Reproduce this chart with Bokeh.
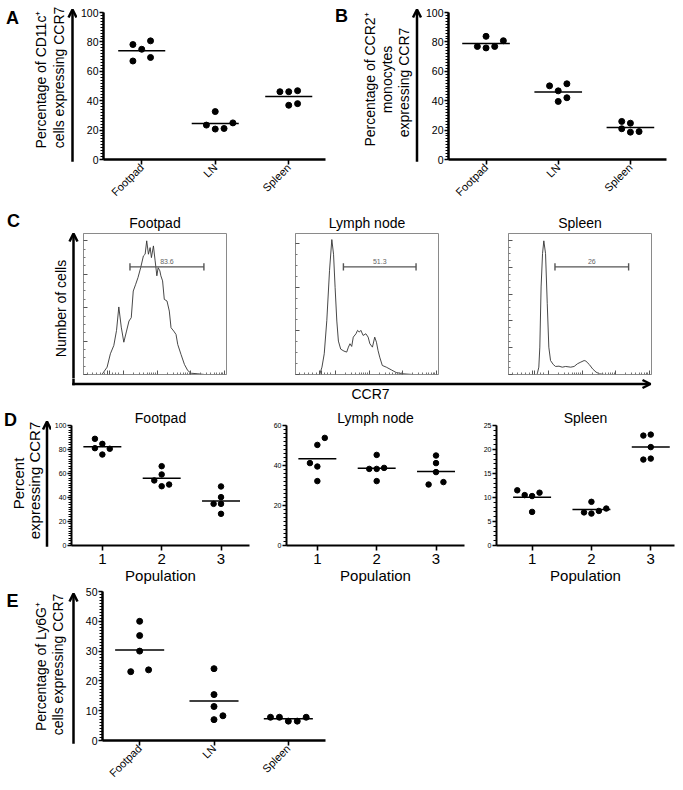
import numpy as np
from math import pi, log10
from bokeh.plotting import figure
from bokeh.layouts import row, column
from bokeh.models import Range1d, SingleIntervalTicker, FixedTicker, Arrow, OpenHead
from bokeh.core.properties import value
from bokeh.embed import file_html
from bokeh.resources import INLINE

FONT = "Liberation Sans"

# ---------------- data ----------------
a_categories = ["Footpad", "LN", "Spleen"]
a_footpad = [78.2, 75.0, 80.7, 67.0, 69.4]
a_ln = [32.6, 23.4, 20.7, 21.1, 24.9]
a_spleen = [46.1, 46.1, 46.8, 36.9, 38.0]
a_slots = [[-1, 0, 1, -1, 1], [0, -1, 0, 1, 2], [-1, 0, 1, 0, 1]]

b_categories = ["Footpad", "LN", "Spleen"]
b_footpad = [83.8, 76.9, 75.9, 76.9, 80.8]
b_ln = [50.1, 51.5, 46.7, 39.5, 42.0]
b_spleen = [25.9, 20.9, 24.7, 18.6, 19.0]
b_slots = [[0, -1, 0, 1, 2], [-1, 1, 0, 0, 1], [-1, -1, 0, 0, 1]]

c_titles = ["Footpad", "Lymph node", "Spleen"]
c_fp_x = [0.129, 0.165, 0.188, 0.212, 0.231, 0.247, 0.264, 0.282, 0.301, 0.318, 0.334,
          0.348, 0.365, 0.381, 0.400, 0.419, 0.431, 0.442, 0.454, 0.466, 0.475, 0.489,
          0.501, 0.513, 0.522, 0.534, 0.541, 0.553, 0.565, 0.584, 0.600, 0.612, 0.631,
          0.647, 0.659, 0.682, 0.706, 0.729, 0.753, 0.800, 0.847]
c_fp_y = [0, 5.2, 14.7, 20.6, 31.3, 47.9, 33.6, 22.9, 30.8, 37.9, 40.3, 59.2, 64.0, 68.7,
          75.8, 84.1, 85.3, 94.8, 85.3, 90.0, 82.9, 91.2, 80.6, 70.0, 75.8, 73.5, 70.0,
          66.4, 53.3, 52.1, 45.0, 33.2, 30.8, 28.4, 21.3, 14.2, 7.1, 2.8, 0.9, 0.5, 0]
c_ln_x = [0.169, 0.185, 0.201, 0.219, 0.238, 0.254, 0.266, 0.277, 0.289, 0.300, 0.316,
          0.339, 0.358, 0.370, 0.381, 0.393, 0.404, 0.423, 0.434, 0.446, 0.457, 0.473,
          0.492, 0.508, 0.520, 0.538, 0.554, 0.566, 0.577, 0.589, 0.607, 0.635, 0.670,
          0.704, 0.751, 0.820]
c_ln_y = [0, 5.2, 14.7, 38.4, 73.9, 95.7, 85.3, 61.6, 37.9, 23.7, 18.0, 16.6, 15.9, 19.4,
          21.8, 19.9, 26.5, 28.9, 31.3, 30.1, 31.3, 27.7, 28.9, 26.5, 21.8, 19.4, 26.5,
          22.9, 17.1, 12.3, 6.4, 5.2, 3.3, 1.4, 0.5, 0]
c_sp_x = [0.200, 0.212, 0.219, 0.228, 0.238, 0.247, 0.259, 0.271, 0.282, 0.294, 0.313,
          0.329, 0.353, 0.376, 0.400, 0.435, 0.459, 0.482, 0.506, 0.529, 0.541, 0.565,
          0.588, 0.612, 0.635, 0.671]
c_sp_y = [0, 5.2, 19.4, 62.1, 85.8, 94.8, 85.8, 50.2, 19.4, 9.9, 7.1, 5.7, 5.9, 5.2, 5.7,
          5.2, 5.7, 7.6, 8.8, 9.9, 9.5, 7.1, 4.0, 1.7, 0.5, 0]
c_gate_lo = [0.325, 0.335, 0.325]
c_gate_hi = [0.842, 0.843, 0.840]
c_gate_level = [76.3, 76.3, 76.3]
c_gate_labels = ["83.6", "51.3", "26"]

d_titles = ["Footpad", "Lymph node", "Spleen"]
d_populations = ["1", "2", "3"]
d_footpad = [[88.9, 84.7, 81.1, 80.6, 75.8], [66.1, 59.2, 54.2, 49.4, 50.8],
             [49.2, 40.3, 34.7, 34.7, 26.4]]
d_footpad_slots = [[-1, 0, -1, 1, 0], [0, 0, -1, 0, 1], [0, 0, -1, 0, 0]]
d_lymph = [[53.8, 50.3, 41.2, 39.5, 32.2], [45.3, 38.3, 38.3, 38.8, 32.2],
           [45.0, 41.2, 36.7, 30.5, 31.7]]
d_lymph_slots = [[1, 0, -1, 0, 0], [0, -1, 0, 1, 0], [0, 0, 0, -1, 1]]
d_spleen = [[11.5, 10.5, 10.3, 11.0, 7.0], [9.1, 6.9, 6.65, 7.2, 7.7],
            [22.9, 23.1, 20.5, 17.9, 18.1]]
d_spleen_slots = [[-2, -1, 0, 1, 0], [0, -1, 0, 1, 2], [-1, 0, 0, -1, 0]]

e_categories = ["Footpad", "LN", "Spleen"]
e_footpad = [40.0, 35.2, 30.0, 23.1, 23.7]
e_ln = [24.1, 15.4, 11.4, 8.3, 7.0]
e_spleen = [7.8, 7.8, 6.5, 6.5, 7.8]
e_slots = [[0, 0, 0, -1, 1], [0, 0, 0, 1, 0], [-2, -1, 0, 1, 2]]


# ---------------- helpers ----------------
def base_fig(width, height, **kw):
    return figure(width=width, height=height, output_backend="svg",
                  toolbar_location=None, **kw)


def deco_fig(width, height):
    p = base_fig(width, height, x_range=Range1d(0, width), y_range=Range1d(0, height),
                 x_axis_location=None, y_axis_location=None, min_border=0)
    try:
        p.frame_align = False
    except Exception:
        pass
    p.grid.visible = False
    p.outline_line_color = None
    p.tags = [height]
    return p


def put_text(p, x, y, s, size, angle=0.0, bold=False, color="black",
             align="center", baseline="middle"):
    h = p.tags[0]
    p.text(x=[x], y=[h - y], text=[s], angle=angle, text_font=value(FONT),
           text_font_size=f"{size}px", text_font_style="bold" if bold else "normal",
           text_color=color, text_align=align, text_baseline=baseline)


def put_arrow(p, x0, y0, x1, y1, lw=2.5, head=8):
    h = p.tags[0]
    p.add_layout(Arrow(end=OpenHead(size=head, line_width=lw, line_color="black"),
                       x_start=x0, y_start=h - y0, x_end=x1, y_end=h - y1,
                       line_width=lw, line_color="black", line_cap="square"))


def style_title(p, standoff):
    p.title.align = "center"
    p.title.text_font = FONT
    p.title.text_font_size = "14px"
    p.title.text_font_style = "normal"
    p.title.text_color = "black"
    p.title.standoff = standoff


def dot_fig(width, height, borders, xr, yr, yint, nminor, positions, labels, groups, slots,
            step, half, dot_size, tick_fs, cat_fs, axis_w, rotate, xlabel=None, title=None):
    lb, rb, tb, bb = borders
    kw = dict(x_range=Range1d(*xr), y_range=Range1d(*yr), min_border_left=lb,
              min_border_right=rb, min_border_top=tb, min_border_bottom=bb)
    if title:
        kw["title"] = title
    p = base_fig(width, height, **kw)
    if title:
        style_title(p, 0)
    p.grid.visible = False
    p.outline_line_color = None

    ya = p.yaxis[0]
    ya.ticker = SingleIntervalTicker(interval=yint, num_minor_ticks=nminor)
    ya.major_tick_out = 4
    ya.major_tick_in = 0
    ya.minor_tick_out = 3
    ya.minor_tick_in = 0
    ya.axis_line_width = axis_w
    ya.major_tick_line_width = 1.3
    ya.minor_tick_line_width = 1
    ya.major_label_text_font = FONT
    ya.major_label_text_font_size = tick_fs
    ya.major_label_text_color = "black"
    ya.major_label_standoff = 1

    xa = p.xaxis[0]
    xa.ticker = FixedTicker(ticks=positions, minor_ticks=[])
    xa.major_label_overrides = {pos: lab for pos, lab in zip(positions, labels)}
    xa.major_tick_out = 5
    xa.major_tick_in = 0
    xa.axis_line_width = axis_w
    xa.major_tick_line_width = 1.6
    xa.major_label_text_font = FONT
    xa.major_label_text_font_size = cat_fs
    xa.major_label_text_color = "black"
    if rotate:
        xa.major_label_orientation = pi / 4
        xa.major_label_standoff = 1
    else:
        xa.major_label_standoff = 3
    if xlabel:
        xa.axis_label = xlabel
        xa.axis_label_text_font = FONT
        xa.axis_label_text_font_size = "15px"
        xa.axis_label_text_font_style = "normal"
        xa.axis_label_text_color = "black"
        xa.axis_label_standoff = 0

    for pos, vals, sl in zip(positions, groups, slots):
        xs = [pos + s * step for s in sl]
        p.scatter(xs, vals, size=dot_size, color="black")
        m = float(np.mean(vals))
        p.segment(x0=[pos - half], y0=[m], x1=[pos + half], y1=[m],
                  line_color="black", line_width=1.5)
    return p


def hist_fig(width, height, borders, title, xs, ys, lo, hi, lvl, lab, ymajor):
    lb, rb, tb, bb = borders
    p = base_fig(width, height, x_range=Range1d(0, 1), y_range=Range1d(0, 100),
                 min_border_left=lb, min_border_right=rb, min_border_top=tb,
                 min_border_bottom=bb, title=title)
    style_title(p, 5)
    p.grid.visible = False
    p.outline_line_color = "#8a8a8a"
    p.outline_line_width = 1

    decades = [0.28, 0.515, 0.75, 0.985]
    xminor = [d + 0.235 * log10(k) for d in decades[:-1] for k in range(2, 10)]
    xminor += [0.03, 0.06, 0.09, 0.12, 0.15, 0.205, 0.225, 0.245]
    yminor = []
    for a, b in zip(ymajor[:-1], ymajor[1:]):
        yminor += [a + (b - a) * f for f in (0.25, 0.5, 0.75)]
    p.xaxis[0].ticker = FixedTicker(ticks=[0.17, 0.185] + decades, minor_ticks=xminor)
    p.yaxis[0].ticker = FixedTicker(ticks=ymajor, minor_ticks=yminor)
    for ax in (p.xaxis[0], p.yaxis[0]):
        ax.major_label_text_font_size = "0px"
        ax.major_label_text_color = None
        ax.major_label_standoff = 0
        ax.major_tick_out = 0
        ax.minor_tick_out = 0
        ax.major_tick_in = 4
        ax.minor_tick_in = 2
        ax.axis_line_color = "#8a8a8a"
        ax.major_tick_line_color = "#555555"
        ax.minor_tick_line_color = "#777777"

    p.line(xs, ys, line_color="#333333", line_width=0.9)
    p.segment(x0=[lo], y0=[lvl], x1=[hi], y1=[lvl], line_color="#555555", line_width=1.4)
    p.segment(x0=[lo, hi], y0=[lvl - 2.6, lvl - 2.6], x1=[lo, hi], y1=[lvl + 2.6, lvl + 2.6],
              line_color="#555555", line_width=1.4)
    p.text(x=[(lo + hi) / 2], y=[lvl + 2], text=[lab], text_font=value(FONT),
           text_font_size="7px", text_color="#666666", text_align="center",
           text_baseline="bottom")
    return p


# ---------------- row 1: A and B ----------------
H1 = 205
decoA = deco_fig(77, H1)
put_text(decoA, 12, 17, "A", 18, bold=True)
put_text(decoA, 40, 79, "Percentage of CD11c\u207a", 14, angle=pi / 2)
put_text(decoA, 58, 77, "cells expressing CCR7", 14, angle=pi / 2)
put_arrow(decoA, 72, 160, 72, 9)

figA = dot_fig(258, H1, (23, 10, 12, 45), (-0.52, 2.5), (0, 100), 20, 10, [0, 1, 2],
               a_categories, [a_footpad, a_ln, a_spleen], a_slots, 0.12, 0.32, 6,
               "10.5px", "11px", 2.5, True)

decoB = deco_fig(87, H1)
put_text(decoB, 6, 15, "B", 18, bold=True)
put_text(decoB, 34, 79, "Percentage of CCR2\u207a", 14, angle=pi / 2)
put_text(decoB, 51, 79, "monocytes", 14, angle=pi / 2)
put_text(decoB, 68, 82, "expressing CCR7", 14, angle=pi / 2)
put_arrow(decoB, 81.5, 160, 81.5, 9)

figB = dot_fig(261, H1, (23, 17, 12, 45), (-0.52, 2.5), (0, 100), 20, 10, [0, 1, 2],
               b_categories, [b_footpad, b_ln, b_spleen], b_slots, 0.12, 0.33, 6,
               "10.5px", "11px", 2.5, True)

# ---------------- row 2: C ----------------
HC1, HC2 = 173, 22
decoCl = deco_fig(80, HC1)
put_text(decoCl, 13, 15, "C", 18, bold=True)
put_text(decoCl, 60, 103, "Number of cells", 14, angle=pi / 2)
put_arrow(decoCl, 73, HC1 + 2, 73, 28)

hist_borders = [(3, 66, 28, 4), (3, 67, 28, 4), (3, 32, 28, 4)]
hist_widths = [212, 213, 178]
hist_x = [c_fp_x, c_ln_x, c_sp_x]
hist_y = [c_fp_y, c_ln_y, c_sp_y]
hist_yticks = [[0, 23.7, 47.4, 71.1, 94.8], [0, 31, 62, 93], [0, 19, 38, 57, 76, 95]]
hists = [hist_fig(hist_widths[i], HC1, hist_borders[i], c_titles[i], hist_x[i], hist_y[i],
                  c_gate_lo[i], c_gate_hi[i], c_gate_level[i], c_gate_labels[i],
                  hist_yticks[i]) for i in range(3)]

decoCb = deco_fig(683, HC2)
decoCb.segment(x0=[73], y0=[HC2 + 1], x1=[73], y1=[HC2 - 5.5], line_color="black",
               line_width=2.5, line_cap="square")
put_arrow(decoCb, 73, 5.5, 650, 5.5)
put_text(decoCb, 370, 15, "CCR7", 14)

# ---------------- row 3: D ----------------
HD = 186
decoD = deco_fig(51, HD)
put_text(decoD, 10, 19, "D", 18, bold=True)
put_text(decoD, 18, 83, "Percent", 15, angle=pi / 2)
put_text(decoD, 34, 80, "expressing CCR7", 15, angle=pi / 2)
put_arrow(decoD, 46.5, 145, 46.5, 21)

d_specs = [
    (215, (20, 17, 25, 41), (0.48, 3.48), (0, 100), 20, 10, d_footpad, d_footpad_slots),
    (210, (20, 12, 25, 41), (0.48, 3.48), (0, 60), 20, 10, d_lymph, d_lymph_slots),
    (207, (20, 9, 25, 41), (0.40, 3.40), (0, 25), 5, 5, d_spleen, d_spleen_slots),
]
d_figs = []
for i, (w, bd, xr, yr, yint, nmin, groups, slots) in enumerate(d_specs):
    d_figs.append(dot_fig(w, HD, bd, xr, yr, yint, nmin, [1, 2, 3], d_populations, groups,
                          slots, 0.125, 0.32, 5.5, "7px", "15px", 2, False,
                          xlabel="Population", title=d_titles[i]))

# ---------------- row 4: E ----------------
HE = 204
decoE = deco_fig(79, HE)
put_text(decoE, 12, 14, "E", 18, bold=True)
put_text(decoE, 40, 80, "Percentage of Ly6G\u207a", 14, angle=pi / 2)
put_text(decoE, 57, 78, "cells expressing CCR7", 14, angle=pi / 2)
put_arrow(decoE, 73, 156, 73, 7)

figE = dot_fig(256, HE, (23, 10, 5, 50), (-0.5, 2.5), (0, 50), 10, 10, [0, 1, 2],
               e_categories, [e_footpad, e_ln, e_spleen], e_slots, 0.12, 0.33, 6,
               "10.5px", "11px", 2.5, True)

layout = column(
    row(decoA, figA, decoB, figB),
    row(decoCl, *hists),
    decoCb,
    row(decoD, *d_figs),
    row(decoE, figE),
)

open("out.html", "w").write(file_html(layout, INLINE))
